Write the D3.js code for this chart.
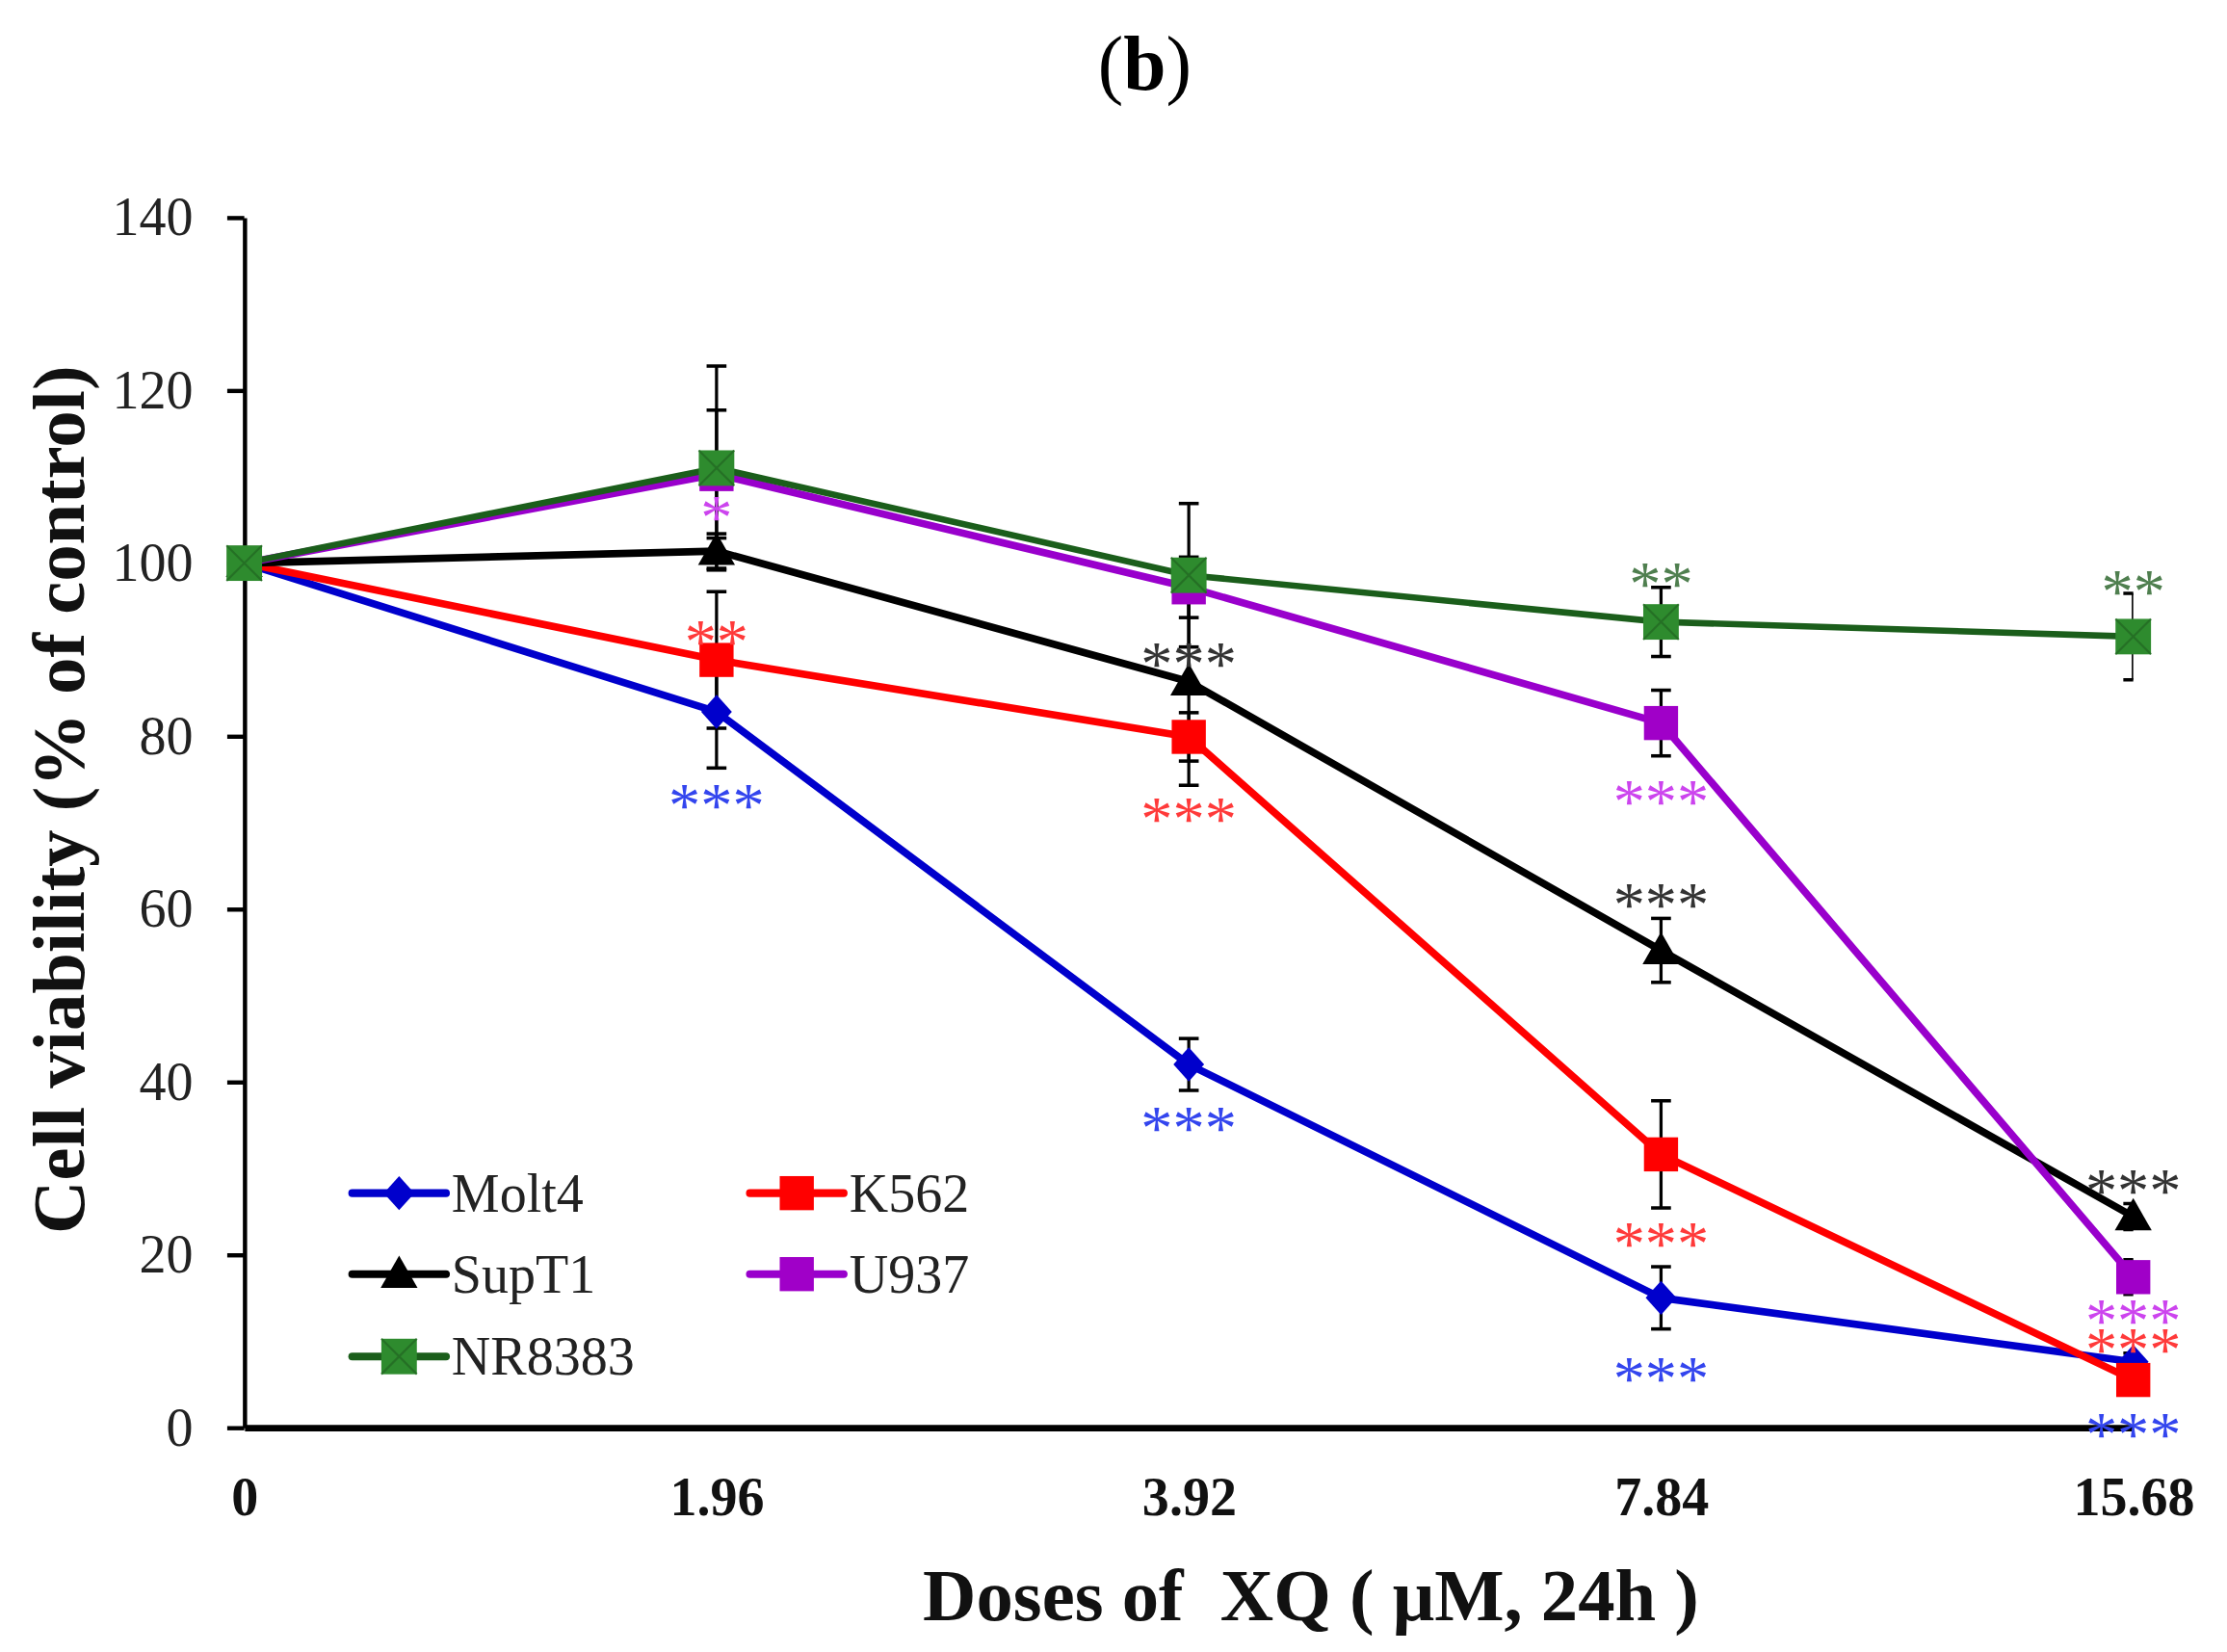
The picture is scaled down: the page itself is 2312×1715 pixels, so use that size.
<!DOCTYPE html>
<html>
<head>
<meta charset="utf-8">
<script src="https://cdn.jsdelivr.net/npm/d3@7"></script>
<style>
  html, body { margin: 0; padding: 0; background: #fff; }
  text { font-family: "Liberation Serif", "Times New Roman", serif; }
</style>
</head>
<body>
<div id="chart"></div>
<script>
// doses on the x axis (category axis, equally spaced)
const doses = ["0", "1.96", "3.92", "7.84", "15.68"];
const yTicks = [0, 20, 40, 60, 80, 100, 120, 140];

const seriesNames = ["Molt4", "K562", "SupT1", "U937", "NR8383"];

// cell viability (% of control)
const molt4 = [100, 82.8, 42.0, 15.0, 7.6];
const k562 = [100, 88.8, 79.9, 31.6, 5.5];
const supt1 = [100, 101.4, 86.3, 55.2, 24.4];
const u937 = [100, 110.3, 97.2, 81.5, 17.4];
const nr8383 = [100, 111.0, 98.6, 93.2, 91.5];

// error bar half-widths
const molt4Err = [0, 6.5, 3.0, 3.6, 1.0];
const k562Err = [0, 7.9, 2.8, 6.2, 1.0];
const supt1Err = [0, 2.0, 12.0, 3.7, 1.5];
const u937Err = [0, 7.4, 3.5, 3.8, 2.0];
const nr8383Err = [0, 11.8, 8.3, 4.0, 5.0];

// significance marks: series, dose, label, level (in % units)
const annoSeries = ["U937", "K562", "Molt4", "SupT1", "K562", "Molt4", "NR8383", "U937", "SupT1", "K562", "Molt4", "NR8383", "SupT1", "U937", "K562", "Molt4"];
const annoDose = ["1.96", "1.96", "1.96", "3.92", "3.92", "3.92", "7.84", "7.84", "7.84", "7.84", "7.84", "15.68", "15.68", "15.68", "15.68", "15.68"];
const annoText = ["*", "**", "***", "***", "***", "***", "**", "***", "***", "***", "***", "**", "***", "***", "***", "***"];
const annoLevel = [106.3, 92.0, 73.0, 89.4, 71.5, 35.7, 98.6, 73.4, 61.5, 22.3, 6.7, 97.8, 28.4, 13.4, 10.0, 0.2];

const style = {
  Molt4: { line: "#0000cc", fill: "#0000cc", star: "#3345ee", shape: "diamond" },
  K562: { line: "#ff0000", fill: "#ff0000", star: "#ff3a3a", shape: "square" },
  SupT1: { line: "#000000", fill: "#000000", star: "#333333", shape: "triangle" },
  U937: { line: "#9900cc", fill: "#a000c8", star: "#cc44ee", shape: "square" },
  NR8383: { line: "#1b5e1b", fill: "#2e8b2e", star: "#4f7f4f", shape: "xsquare" }
};

const series = [
  { name: "Molt4", values: molt4, err: molt4Err },
  { name: "K562", values: k562, err: k562Err },
  { name: "SupT1", values: supt1, err: supt1Err },
  { name: "U937", values: u937, err: u937Err },
  { name: "NR8383", values: nr8383, err: nr8383Err }
];

const W = 1568, H = 1163;
const margin = { top: 153, right: 66, bottom: 158, left: 172 };

const svg = d3.select("#chart").append("svg")
  .attr("width", 2312)
  .attr("height", 1715)
  .attr("viewBox", `0 0 ${W} ${H}`);

const x = d3.scalePoint()
  .domain(doses)
  .range([margin.left, W - margin.right]);

const y = d3.scaleLinear()
  .domain([0, 140])
  .range([H - margin.bottom, margin.top]);

// title
svg.append("text")
  .attr("x", 806)
  .attr("y", 63)
  .attr("text-anchor", "middle")
  .attr("font-size", 54)
  .call(t => {
    t.append("tspan").text("(");
    t.append("tspan").attr("font-weight", "bold").text("b");
    t.append("tspan").text(")");
  });

// clip for error bars (Excel clips them at the plot area)
svg.append("clipPath").attr("id", "plot-clip")
  .append("rect")
  .attr("x", margin.left)
  .attr("y", 0)
  .attr("width", x.range()[1] - margin.left)
  .attr("height", H);

// error bars
const errG = svg.append("g").attr("clip-path", "url(#plot-clip)");
const capW = 7;
series.forEach(s => {
  s.values.forEach((v, i) => {
    const e = s.err[i];
    if (!e) return;
    const cx = x(doses[i]);
    errG.append("line")
      .attr("x1", cx).attr("x2", cx)
      .attr("y1", y(v + e)).attr("y2", y(v - e))
      .attr("stroke", "#000").attr("stroke-width", 2.2);
    [v + e, v - e].forEach(c => {
      errG.append("line")
        .attr("x1", cx - capW).attr("x2", cx + capW)
        .attr("y1", y(c)).attr("y2", y(c))
        .attr("stroke", "#000").attr("stroke-width", 2.4);
    });
  });
});

// axes
const yAxis = svg.append("g")
  .attr("transform", `translate(${margin.left},0)`)
  .call(d3.axisLeft(y).tickValues(yTicks).tickSize(12).tickSizeOuter(0).tickPadding(24));
yAxis.select(".domain").attr("stroke-width", 3);
yAxis.selectAll(".tick line").attr("stroke-width", 3);
yAxis.selectAll(".tick text")
  .attr("font-size", 38)
  .attr("font-family", "Liberation Serif, serif")
  .attr("fill", "#222");

const xAxis = svg.append("g")
  .attr("transform", `translate(0,${y(0)})`)
  .call(d3.axisBottom(x).tickSize(0).tickPadding(35));
xAxis.select(".domain").attr("stroke-width", 4.5);
xAxis.selectAll(".tick text")
  .attr("font-size", 38)
  .attr("font-weight", "bold")
  .attr("font-family", "Liberation Serif, serif")
  .attr("fill", "#111");

// axis titles
svg.append("text")
  .attr("x", 923)
  .attr("y", 1141)
  .attr("text-anchor", "middle")
  .attr("font-size", 52)
  .attr("font-weight", "bold")
  .attr("fill", "#111")
  .attr("xml:space", "preserve")
  .text("Doses of  XQ ( μM, 24h )");

svg.append("text")
  .attr("transform", "translate(59,563) rotate(-90)")
  .attr("text-anchor", "middle")
  .attr("font-size", 52)
  .attr("font-weight", "bold")
  .attr("fill", "#111")
  .text("Cell viability (% of control)");

// marker drawing
function marker(g, shape, cx, cy, st, k) {
  k = k || 1;
  if (shape === "diamond") {
    const r = 12 * k;
    g.append("path")
      .attr("d", `M${cx},${cy - r}L${cx + r * 0.9},${cy}L${cx},${cy + r}L${cx - r * 0.9},${cy}Z`)
      .attr("fill", st.fill);
  } else if (shape === "triangle") {
    const r = 13 * k;
    g.append("path")
      .attr("d", `M${cx},${cy - r}L${cx + r},${cy + r * 0.75}L${cx - r},${cy + r * 0.75}Z`)
      .attr("fill", st.fill);
  } else {
    const r = (shape === "xsquare" ? 12.5 : 12) * k;
    g.append("rect")
      .attr("x", cx - r).attr("y", cy - r)
      .attr("width", 2 * r).attr("height", 2 * r)
      .attr("fill", st.fill);
    if (shape === "xsquare") {
      g.append("path")
        .attr("d", `M${cx - r},${cy - r}L${cx + r},${cy + r}M${cx + r},${cy - r}L${cx - r},${cy + r}`)
        .attr("stroke", "#226622").attr("stroke-width", 1.5).attr("opacity", 0.7);
    }
  }
}

const line = d3.line()
  .x((d, i) => x(doses[i]))
  .y(d => y(d));

series.forEach(s => {
  const st = style[s.name];
  const g = svg.append("g");
  g.append("path")
    .datum(s.values)
    .attr("d", line)
    .attr("fill", "none")
    .attr("stroke", st.line)
    .attr("stroke-width", s.name === "NR8383" ? 4.5 : 5.2)
    .attr("stroke-linejoin", "round");
  s.values.forEach((v, i) => marker(g, st.shape, x(doses[i]), y(v), st));
});

// significance asterisks
const starSize = 45;
annoText.forEach((t, i) => {
  svg.append("text")
    .attr("x", x(annoDose[i]))
    .attr("y", y(annoLevel[i]) + starSize * 0.47)
    .attr("text-anchor", "middle")
    .attr("font-size", starSize)
    .attr("fill", style[annoSeries[i]].star)
    .text(t);
});

// legend
const legendX = [248, 528];
const legendY = [840, 897, 955];
const legend = svg.append("g");
seriesNames.forEach((name, i) => {
  const st = style[name];
  const lx = legendX[i % 2];
  const ly = legendY[Math.floor(i / 2)];
  legend.append("line")
    .attr("x1", lx).attr("x2", lx + 66)
    .attr("y1", ly).attr("y2", ly)
    .attr("stroke", st.line)
    .attr("stroke-width", 5.5)
    .attr("stroke-linecap", "round");
  marker(legend, st.shape, lx + 33, ly, st, 1);
  legend.append("text")
    .attr("x", lx + 70)
    .attr("y", ly + 13)
    .attr("font-size", 38)
    .attr("fill", "#222")
    .text(name);
});
</script>
</body>
</html>
